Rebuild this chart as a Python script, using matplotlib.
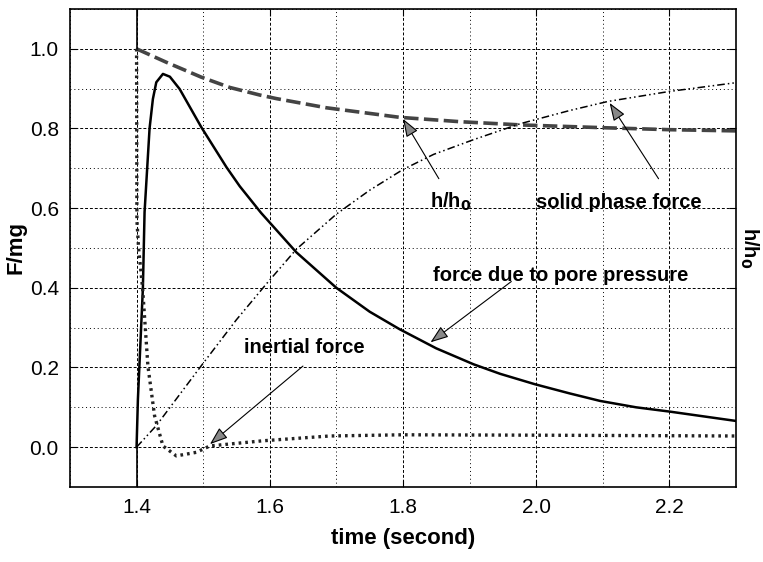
import numpy as np
import matplotlib
matplotlib.use('Agg')
import matplotlib.pyplot as plt
from matplotlib.ticker import MultipleLocator

plt.rcParams['font.family'] = ['Liberation Sans', 'DejaVu Sans']

# h/h0 (dashed)
t_h = [1.400, 1.445, 1.497, 1.540, 1.585, 1.610, 1.685, 1.795, 1.886, 1.976,
       2.100, 2.200, 2.300]
h_ratio = [1.000, 0.966, 0.929, 0.903, 0.884, 0.875, 0.852, 0.828, 0.817, 0.809,
           0.802, 0.797, 0.794]

# force due to pore pressure (solid)
t_pore = [1.400, 1.402, 1.4095, 1.412, 1.4195, 1.4245, 1.4296, 1.4396, 1.450,
          1.4647, 1.4973, 1.5349, 1.5549, 1.587, 1.640, 1.700, 1.750, 1.795,
          1.850, 1.906, 1.946, 1.998, 2.050, 2.096, 2.150, 2.2015, 2.299]
f_pore = [0.000, 0.120, 0.400, 0.590, 0.800, 0.874, 0.916, 0.937, 0.930,
          0.899, 0.803, 0.703, 0.655, 0.588, 0.489, 0.400, 0.340, 0.296,
          0.248, 0.208, 0.184, 0.158, 0.135, 0.116, 0.100, 0.089, 0.066]

# solid phase force (dash-dot-dot)
t_solid = [1.400, 1.4296, 1.497, 1.550, 1.595, 1.640, 1.700, 1.750, 1.800,
           1.846, 1.906, 1.976, 2.050, 2.108, 2.200, 2.300]
f_solid = [0.000, 0.054, 0.204, 0.320, 0.410, 0.497, 0.585, 0.645, 0.697,
           0.735, 0.772, 0.812, 0.845, 0.868, 0.893, 0.915]

# inertial force (dotted)
t_inert = [1.400, 1.4005, 1.403, 1.409, 1.417, 1.427, 1.4396, 1.4597, 1.4898,
           1.510, 1.590, 1.690, 1.800, 2.000, 2.300]
f_inert = [1.000, 0.570, 0.500, 0.400, 0.204, 0.079, 0.003, -0.022, -0.013,
           0.003, 0.016, 0.028, 0.031, 0.030, 0.028]

fig = plt.figure(figsize=(7.63, 5.62), dpi=100)
ax = fig.add_axes([0.0917, 0.1335, 0.8729, 0.8505])

ax.plot(t_h, h_ratio, color='#444444', lw=2.6, ls=(0, (4, 1.5)))
ax.plot(t_pore, f_pore, color='black', lw=1.8)
ax.plot(t_solid, f_solid, color='black', lw=1.1, ls=(0, (5, 2, 1, 2, 1, 2)))
ax.plot(t_inert, f_inert, color='#222222', lw=2.4, ls=(0, (0.8, 1.2)))
# short solid segments at the start time
ax.vlines(t_pore[0], h_ratio[0], 1.1, color='black', lw=1.2)
ax.vlines(t_pore[0], -0.1, f_pore[0], color='black', lw=1.2)

ax.set_xlim(1.3, 2.3)
ax.set_ylim(-0.1, 1.1)
ax.xaxis.set_minor_locator(MultipleLocator(0.1))
ax.yaxis.set_minor_locator(MultipleLocator(0.1))
ax.set_xticks([1.4, 1.6, 1.8, 2.0, 2.2])
ax.set_xticklabels(['1.4', '1.6', '1.8', '2.0', '2.2'])
ax.set_yticks([0.0, 0.2, 0.4, 0.6, 0.8, 1.0])
ax.set_yticklabels(['0.0', '0.2', '0.4', '0.6', '0.8', '1.0'])
ax.grid(which='major', color='black', ls=(0, (3, 2)), lw=0.7)
ax.grid(which='minor', color='black', ls=(0, (1, 3)), lw=0.7)
ax.tick_params(which='major', direction='in', length=5, top=True, right=True,
               labelsize=15, pad=8)
ax.tick_params(which='minor', length=0)
for sp in ax.spines.values():
    sp.set_linewidth(1.2)

ax.set_xlabel('time (second)', fontsize=16, fontweight='bold', labelpad=8)
ax.set_ylabel('F/mg', fontsize=16, fontweight='bold', labelpad=2)
ax.text(1.003, 0.5, 'h/h$_\\mathbf{0}$', transform=ax.transAxes, rotation=270,
        fontsize=14.5, fontweight='bold', va='center', ha='left')

arrow = dict(arrowstyle='-|>,head_length=0.55,head_width=0.2', fc='#888888',
             ec='black', lw=0.8, mutation_scale=20)
fs = 14.5
ax.annotate('', xy=(1.798, 0.83), xytext=(1.856, 0.668), arrowprops=arrow)
ax.text(1.84, 0.615, 'h/h$_\\mathbf{0}$', fontsize=fs, fontweight='bold', va='center')
ax.annotate('', xy=(2.108, 0.87), xytext=(2.186, 0.668), arrowprops=arrow)
ax.text(2.00, 0.615, 'solid phase force', fontsize=fs, fontweight='bold', va='center')
ax.annotate('', xy=(1.838, 0.259), xytext=(1.966, 0.42), arrowprops=arrow)
ax.text(1.845, 0.432, 'force due to pore pressure', fontsize=fs, fontweight='bold', va='center')
ax.annotate('', xy=(1.507, 0.003), xytext=(1.653, 0.208), arrowprops=arrow)
ax.text(1.562, 0.25, 'inertial force', fontsize=fs, fontweight='bold', va='center')

fig.savefig('out.png', dpi=100)
